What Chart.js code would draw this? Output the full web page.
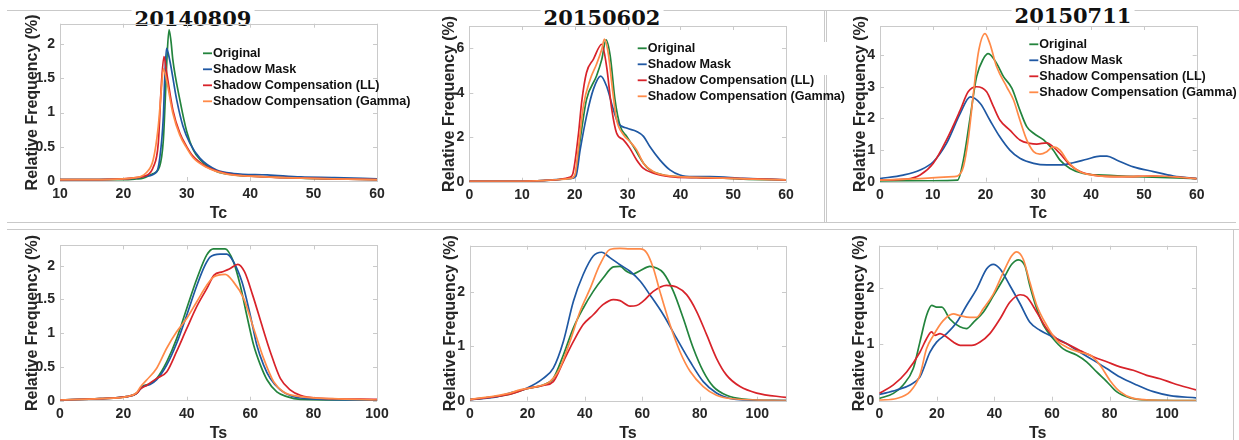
<!DOCTYPE html>
<html>
<head>
<meta charset="utf-8">
<title>Relative frequency of Tc and Ts</title>
<script src="https://cdn.jsdelivr.net/npm/chart.js@4.4.0/dist/chart.umd.min.js"></script>
<style>
  body { margin: 0; background: #fff; }
  #fig { position: relative; width: 1239px; height: 440px; overflow: hidden; }
  #fig canvas { position: absolute; }
  .rule { position: absolute; background: #c9c9c9; }
  .date {
    position: absolute; transform: translateX(-50%);
    font: bold 21px "DejaVu Serif", serif; line-height: 1;
    background: #fff; padding: 0 3px; color: #111; white-space: nowrap;
  }
</style>
</head>
<body>
<div id="fig">
  <div class="rule" style="left:7px;top:10px;width:1232px;height:1px"></div>
  <div class="rule" style="left:7px;top:222px;width:1229px;height:1px"></div>
  <div class="rule" style="left:7px;top:229px;width:1232px;height:1px"></div>
  <div class="rule" style="left:824px;top:10px;width:1px;height:32px"></div>
  <div class="rule" style="left:826px;top:10px;width:1px;height:32px"></div>
  <div class="rule" style="left:824px;top:75px;width:1px;height:147px"></div>
  <div class="rule" style="left:826px;top:75px;width:1px;height:147px"></div>
  <div class="rule" style="left:1233px;top:229px;width:1px;height:211px"></div>
  <div class="date" style="left:193px;top:8px">20140809</div>
  <div class="date" style="left:602px;top:7px">20150602</div>
  <div class="date" style="left:1073px;top:5px">20150711</div>
</div>
<script>
const seriesNames = ['Original', 'Shadow Mask', 'Shadow Compensation (LL)', 'Shadow Compensation (Gamma)'];
const seriesColors = ['#23843d', '#1f58a3', '#d8232a', '#ff8a48'];

// 20140809 - Tc
const tc0809Original = [[10,0.02],[15,0.02],[20,0.02],[22,0.03],[23.1,0.04],[24.5,0.1],[25.7,0.21],[26.3,0.6],[26.6,1.19],[26.9,1.85],[27.2,2.21],[27.5,2.05],[27.8,1.77],[28.9,1.19],[30,0.72],[31,0.46],[32.1,0.31],[34.7,0.14],[37.4,0.09],[42.7,0.06],[48,0.04],[53.3,0.03],[60,0.02]];
const tc0809Mask = [[10,0.02],[15,0.02],[20,0.03],[22,0.04],[23.5,0.07],[25.2,0.13],[25.7,0.31],[26.3,0.94],[26.5,1.45],[26.8,1.94],[27.3,1.77],[28.4,1.19],[29.4,0.8],[30.5,0.55],[32.1,0.33],[34.7,0.16],[37.4,0.11],[42.7,0.09],[48,0.06],[53.3,0.05],[60,0.03]];
const tc0809LL = [[10,0.02],[15,0.02],[20,0.03],[22,0.05],[23.6,0.08],[24.7,0.2],[25.5,0.55],[26,1.43],[26.4,1.82],[26.8,1.6],[27.8,1.04],[28.9,0.7],[30,0.5],[31,0.36],[33.1,0.21],[36.3,0.11],[40,0.07],[45.3,0.05],[53,0.03],[60,0.02]];
const tc0809Gamma = [[10,0.02],[15,0.02],[20,0.03],[22,0.05],[22.6,0.06],[23.6,0.12],[24.7,0.31],[25.5,0.8],[26,1.35],[26.3,1.64],[26.8,1.48],[27.8,0.99],[28.9,0.67],[30,0.48],[31,0.34],[33.1,0.2],[36.3,0.1],[40,0.07],[45,0.05],[53,0.03],[60,0.02]];

// 20150602 - Tc
const tc0602Original = [[0,0.02],[10,0.02],[14,0.05],[17,0.1],[19.1,0.15],[20,0.25],[21,1.88],[22.2,3.69],[24.1,4.75],[25.1,5.5],[25.9,6.38],[26.7,5.65],[27.6,3.69],[28.6,2.49],[29.8,2.04],[31.1,1.58],[33,0.83],[34.2,0.53],[36.8,0.3],[39.3,0.23],[45.6,0.18],[51.9,0.12],[60,0.08]];
const tc0602Mask = [[0,0.02],[10,0.02],[14,0.05],[17,0.1],[19.3,0.15],[20.2,0.25],[21,1.43],[22.2,2.94],[23.5,4.15],[24.9,4.75],[26,4.3],[27.3,3.24],[28.2,2.64],[29.8,2.41],[31.7,2.26],[33,2.04],[34.2,1.58],[36.1,0.98],[38,0.53],[39.9,0.3],[42.4,0.23],[45.6,0.23],[51.9,0.15],[60,0.08]];
const tc0602LL = [[0,0.02],[10,0.02],[14,0.05],[17,0.1],[19,0.2],[19.6,0.35],[20.7,2.19],[21.3,3.6],[22.2,4.9],[23.5,5.5],[25.1,6.18],[26,5.2],[27,3.24],[27.9,2.19],[29.2,1.88],[30.4,1.51],[31.7,0.98],[33,0.6],[34.9,0.38],[38,0.23],[43,0.18],[51.9,0.14],[60,0.08]];
const tc0602Gamma = [[0,0.02],[10,0.02],[14,0.05],[17,0.1],[19.2,0.15],[20,0.3],[20.7,1.58],[21.6,3.39],[22.9,4.6],[24.1,5.28],[25.1,5.95],[25.6,6.41],[26.3,5.8],[27.2,4],[27.9,2.79],[29.2,2.11],[30.4,1.81],[31.7,1.43],[33,0.83],[34.9,0.45],[38,0.26],[45,0.18],[51.9,0.13],[60,0.08]];

// 20150711 - Tc
const tc0711Original = [[0,0.02],[10,0.03],[14.7,0.05],[15.8,0.68],[17.1,2.05],[18.3,3.32],[19.6,3.89],[20.5,4.05],[22.1,3.74],[23.4,3.32],[25,2.95],[26.5,2.26],[27.8,1.74],[29.1,1.53],[31,1.32],[32.8,1],[34.1,0.68],[36,0.42],[38.5,0.26],[42.3,0.21],[48.6,0.16],[60,0.1]];
const tc0711Mask = [[0,0.1],[4.4,0.21],[7.6,0.37],[10.1,0.63],[12.6,1.21],[15.2,2.16],[17.1,2.68],[19,2.47],[20.8,1.95],[22.7,1.42],[24.6,1],[26.5,0.74],[29.1,0.58],[31.6,0.53],[34.1,0.53],[36.6,0.6],[39.2,0.71],[41.7,0.81],[43,0.81],[44.9,0.68],[48,0.47],[51.8,0.32],[55.6,0.18],[60,0.1]];
const tc0711LL = [[0,0.05],[5,0.08],[7.6,0.21],[10.1,0.58],[12.6,1.32],[15.2,2.26],[16.7,2.84],[18.3,3],[20.2,2.84],[21.5,2.37],[22.7,1.95],[24.6,1.63],[26.5,1.32],[28.4,1.21],[29.7,1.19],[31.6,1.23],[32.8,1.1],[34.1,0.89],[36,0.53],[37.9,0.32],[40.4,0.21],[46,0.16],[51.8,0.18],[60,0.1]];
const tc0711Gamma = [[0,0.05],[7.6,0.1],[13.9,0.16],[14.7,0.18],[15.8,0.47],[16.7,1.32],[17.7,2.79],[18.6,4.05],[19.9,4.68],[20.8,4.37],[22.1,3.63],[24,3],[25.3,2.58],[26.5,1.95],[27.8,1.32],[29.1,0.95],[30.3,0.87],[31.6,0.95],[32.8,1.1],[34.1,1],[35.4,0.68],[37.3,0.37],[39.2,0.24],[45.5,0.16],[51.8,0.18],[60,0.1]];

// 20140809 - Ts
const ts0809Original = [[0,0.01],[12.6,0.03],[21,0.06],[24.2,0.11],[25.3,0.18],[26.3,0.22],[28.4,0.25],[30.5,0.33],[33.7,0.58],[36.8,0.92],[40,1.37],[43.2,1.81],[46.3,2.16],[48.4,2.25],[52.1,2.25],[54.7,2.06],[56.8,1.72],[58.9,1.27],[61.1,0.82],[63.2,0.53],[65.3,0.31],[68.4,0.13],[71.6,0.06],[75.8,0.02],[100,0.005]];
const ts0809Mask = [[0,0.01],[12.6,0.03],[21,0.06],[24.2,0.11],[25.3,0.17],[26.3,0.21],[28.4,0.24],[30.5,0.31],[33.7,0.53],[36.8,0.85],[40,1.27],[43.2,1.71],[45.8,2.01],[47.4,2.13],[50.5,2.17],[52.6,2.17],[54.7,2.06],[57.4,1.76],[60,1.27],[62.1,0.82],[64.2,0.53],[66.3,0.33],[69.5,0.16],[73,0.07],[78,0.03],[100,0.005]];
const ts0809LL = [[0,0.01],[12.6,0.03],[21,0.06],[24.2,0.11],[25.3,0.17],[27.4,0.23],[30.5,0.33],[33.7,0.43],[36.8,0.73],[40,1.07],[43.2,1.4],[46.3,1.66],[48.6,1.86],[51.3,1.91],[53.4,1.95],[56.1,2.02],[58.2,1.91],[60.8,1.56],[64,1.07],[66.3,0.73],[69.5,0.33],[72.6,0.16],[75.8,0.08],[81,0.04],[100,0.02]];
const ts0809Gamma = [[0,0.01],[12.6,0.03],[21,0.06],[24.2,0.12],[25.3,0.2],[27.4,0.31],[30.5,0.48],[33.7,0.78],[36.8,1.02],[40,1.22],[43.2,1.47],[46.3,1.71],[48.4,1.83],[52.1,1.87],[54.7,1.76],[57.9,1.52],[61.1,1.07],[64.2,0.63],[67.4,0.28],[70.5,0.13],[75.8,0.06],[86,0.03],[100,0.01]];

// 20150602 - Ts
const ts0602Original = [[0,0.02],[13.9,0.12],[19.7,0.22],[25.5,0.29],[29,0.41],[32.5,0.84],[36,1.34],[39.4,1.7],[42.9,2.01],[46.4,2.26],[49.9,2.46],[52.2,2.47],[54.5,2.38],[56.8,2.33],[59.2,2.39],[62.6,2.47],[64.9,2.44],[67.3,2.35],[70.8,2.01],[74.2,1.52],[77.7,0.97],[81.2,0.54],[84.7,0.26],[89.3,0.1],[95.1,0.03],[110,0]];
const ts0602Mask = [[0,0.02],[9.3,0.07],[13.9,0.14],[19.7,0.23],[25.5,0.41],[29,0.6],[32.5,1.09],[36,1.83],[39.4,2.32],[42.9,2.66],[45.8,2.73],[48.7,2.63],[52.2,2.5],[55.7,2.38],[59.2,2.2],[62.6,1.95],[67.3,1.58],[71.9,1.15],[76.6,0.72],[81.2,0.35],[85.8,0.14],[90.5,0.04],[95.1,0.01],[110,0]];
const ts0602LL = [[0,0.02],[13.9,0.12],[19.7,0.22],[25.5,0.28],[29,0.35],[32.5,0.72],[36,1.09],[39.4,1.4],[42.9,1.58],[46.4,1.77],[49.9,1.86],[52.2,1.84],[55.7,1.74],[58,1.75],[60.3,1.83],[63.8,2.01],[68.4,2.12],[71.9,2.09],[75.4,1.95],[78.9,1.64],[82.4,1.21],[85.8,0.78],[89.3,0.47],[94,0.26],[99.8,0.14],[110,0.06]];
const ts0602Gamma = [[0,0.02],[13.9,0.14],[17.4,0.2],[23.2,0.26],[27.8,0.35],[31.3,0.6],[34.8,1.09],[38.3,1.64],[41.8,2.06],[45.2,2.5],[48.7,2.78],[52.2,2.8],[55.7,2.79],[59.2,2.79],[61.5,2.72],[63.8,2.44],[66.1,2.01],[69.6,1.4],[73.1,0.9],[76.6,0.54],[81.2,0.26],[85.8,0.1],[90.5,0.04],[110,0]];

// 20150711 - Ts
const ts0711Original = [[0,0.04],[4.9,0.13],[8.3,0.28],[11.8,0.57],[14.1,1.04],[16.4,1.51],[18.2,1.69],[19.9,1.66],[21.7,1.66],[24.5,1.45],[28,1.31],[30.3,1.28],[32.7,1.39],[36.1,1.57],[39.6,1.86],[43.1,2.16],[46,2.42],[48.3,2.5],[50.6,2.39],[52.3,2.04],[54.7,1.63],[57,1.34],[60.4,1.1],[63.9,0.92],[68.5,0.81],[72,0.69],[75.5,0.51],[79,0.34],[82.4,0.16],[87.1,0.05],[92.9,0.01],[110,0]];
const ts0711Mask = [[0,0.11],[6,0.19],[10.7,0.28],[14.1,0.42],[17.6,0.86],[19.9,1.04],[23.4,1.19],[26.9,1.39],[30.3,1.69],[33.8,1.98],[37.3,2.34],[39.6,2.42],[41.9,2.34],[45.4,2.04],[48.9,1.72],[52.3,1.39],[55.8,1.25],[60.4,1.13],[65.1,1.01],[69.7,0.86],[74.3,0.72],[79,0.57],[83.6,0.42],[89.4,0.28],[95.2,0.16],[101,0.09],[110,0.05]];
const ts0711LL = [[0,0.13],[4.9,0.28],[9.5,0.51],[14.1,0.86],[16.4,1.1],[18.2,1.22],[19.3,1.16],[21.1,1.19],[23.4,1.13],[25.7,1.04],[28.6,0.98],[32.1,0.98],[35,1.04],[38.4,1.19],[41.9,1.45],[45.4,1.75],[48.9,1.88],[51.2,1.84],[54.7,1.57],[58.1,1.28],[61.6,1.1],[65.1,1.01],[69.7,0.89],[74.3,0.78],[79,0.69],[83.6,0.6],[88.2,0.54],[92.9,0.45],[97.5,0.39],[102,0.31],[110,0.19]];
const ts0711Gamma = [[0,0.01],[6,0.04],[10.7,0.16],[14.1,0.45],[16.4,0.92],[18.8,1.16],[22.2,1.42],[25.7,1.54],[28,1.51],[31.5,1.48],[33.8,1.48],[36.1,1.63],[39.6,1.89],[43.1,2.28],[46,2.57],[47.7,2.64],[50,2.51],[52.3,2.1],[54.7,1.69],[58.1,1.34],[61.6,1.07],[65.1,0.95],[69.7,0.86],[73.2,0.81],[76.7,0.63],[80.1,0.36],[83.6,0.16],[88.2,0.04],[95,0.01],[110,0]];

// panel layout: canvas box and plot area in page pixels
const panels = [
  { canvas: [23, 10, 415, 223],  plot: [60, 23.7, 377, 181],     x: [10, 60, 10],  y: [2.3, 0.5], title: 'Tc',
    series: [tc0809Original, tc0809Mask, tc0809LL, tc0809Gamma], legend: [203, 53.3] },
  { canvas: [440, 10, 850, 223], plot: [469.3, 26, 786, 181.7],  x: [0, 60, 10],   y: [7, 2],     title: 'Tc',
    series: [tc0602Original, tc0602Mask, tc0602LL, tc0602Gamma], legend: [637.7, 48.3] },
  { canvas: [851, 10, 1239, 223], plot: [880, 26, 1196.7, 181.7], x: [0, 60, 10],  y: [4.92, 1],  title: 'Tc',
    series: [tc0711Original, tc0711Mask, tc0711LL, tc0711Gamma], legend: [1029.3, 44.3] },
  { canvas: [23, 232, 395, 443], plot: [60, 245, 377, 400.7],    x: [0, 100, 20],  y: [2.3, 0.5], title: 'Ts',
    series: [ts0809Original, ts0809Mask, ts0809LL, ts0809Gamma] },
  { canvas: [441, 232, 805, 443], plot: [470, 245.7, 786, 400.7], x: [0, 110, 20], y: [2.85, 1],  title: 'Ts',
    series: [ts0602Original, ts0602Mask, ts0602LL, ts0602Gamma] },
  { canvas: [850, 232, 1215, 443], plot: [879.3, 245.7, 1196, 400.7], x: [0, 110, 20], y: [2.75, 1], title: 'Ts',
    series: [ts0711Original, ts0711Mask, ts0711LL, ts0711Gamma] }
];

Chart.defaults.font.family = '"Liberation Sans", Arial, sans-serif';
Chart.defaults.color = '#262626';

// light grey axes box with inward ticks on all four sides
const boxTicks = {
  id: 'boxTicks',
  beforeDatasetsDraw(chart) {
    const { ctx, chartArea: a, scales } = chart;
    ctx.save();
    ctx.strokeStyle = '#cacaca';
    ctx.lineWidth = 1;
    ctx.strokeRect(Math.round(a.left) + 0.5, Math.round(a.top) + 0.5, Math.round(a.width), Math.round(a.height));
    ctx.beginPath();
    scales.x.ticks.forEach(t => {
      const px = Math.round(scales.x.getPixelForValue(t.value)) + 0.5;
      ctx.moveTo(px, a.bottom); ctx.lineTo(px, a.bottom - 4);
      ctx.moveTo(px, a.top); ctx.lineTo(px, a.top + 4);
    });
    scales.y.ticks.forEach(t => {
      const py = Math.round(scales.y.getPixelForValue(t.value)) + 0.5;
      ctx.moveTo(a.left, py); ctx.lineTo(a.left + 4, py);
      ctx.moveTo(a.right, py); ctx.lineTo(a.right - 4, py);
    });
    ctx.stroke();
    ctx.restore();
  }
};

// boxless legend: short line sample then bold label
const lineLegend = {
  id: 'lineLegend',
  afterDatasetsDraw(chart, args, opts) {
    if (!opts || opts.x == null) return;
    const ctx = chart.ctx;
    ctx.save();
    ctx.font = 'bold 12.6px "Liberation Sans", Arial, sans-serif';
    ctx.textBaseline = 'middle';
    chart.data.datasets.forEach((ds, i) => {
      const y = opts.y + i * 16;
      ctx.strokeStyle = ds.borderColor;
      ctx.lineWidth = 1.8;
      ctx.beginPath();
      ctx.moveTo(opts.x, y);
      ctx.lineTo(opts.x + 9, y);
      ctx.stroke();
      ctx.fillStyle = '#111';
      ctx.fillText(ds.label, opts.x + 10, y);
    });
    ctx.restore();
  }
};

const plainNumber = v => String(+v.toFixed(2));

const fig = document.getElementById('fig');

panels.forEach(p => {
  const [cl, ct, cr, cb] = p.canvas;
  const [pl, pt, pr, pb] = p.plot;
  const canvas = document.createElement('canvas');
  canvas.width = cr - cl;
  canvas.height = cb - ct;
  canvas.style.left = cl + 'px';
  canvas.style.top = ct + 'px';
  fig.appendChild(canvas);

  const datasets = p.series.map((pts, i) => ({
    label: seriesNames[i],
    data: pts.map(([x, y]) => ({ x, y })),
    borderColor: seriesColors[i],
    borderWidth: 1.7,
    pointRadius: 0,
    cubicInterpolationMode: 'monotone',
    order: p.series.length - i
  }));

  new Chart(canvas, {
    type: 'line',
    data: { datasets },
    plugins: [boxTicks, lineLegend],
    options: {
      responsive: false,
      animation: false,
      layout: { padding: { left: 0, top: pt - ct, right: cr - pr, bottom: 0 } },
      plugins: {
        legend: { display: false },
        tooltip: { enabled: false },
        lineLegend: p.legend ? { x: p.legend[0] - cl, y: p.legend[1] - ct } : {}
      },
      scales: {
        x: {
          type: 'linear',
          min: p.x[0], max: p.x[1],
          afterFit: s => { s.height = cb - pb; },
          grid: { display: false, drawTicks: false },
          border: { display: false },
          ticks: { stepSize: p.x[2], includeBounds: false, padding: 5, maxRotation: 0,
                   callback: plainNumber, font: { size: 14, weight: 'bold' } },
          title: { display: true, text: p.title, padding: 0, font: { size: 16, weight: 'bold' } }
        },
        y: {
          min: 0, max: p.y[0],
          afterFit: s => { s.width = pl - cl; },
          grid: { display: false, drawTicks: false },
          border: { display: false },
          ticks: { stepSize: p.y[1], includeBounds: false, padding: 5,
                   callback: plainNumber, font: { size: 14, weight: 'bold' } },
          title: { display: true, text: 'Relative Frequency (%)', padding: 0,
                   font: { size: 16, weight: 'bold' } }
        }
      }
    }
  });
});
</script>
</body>
</html>
